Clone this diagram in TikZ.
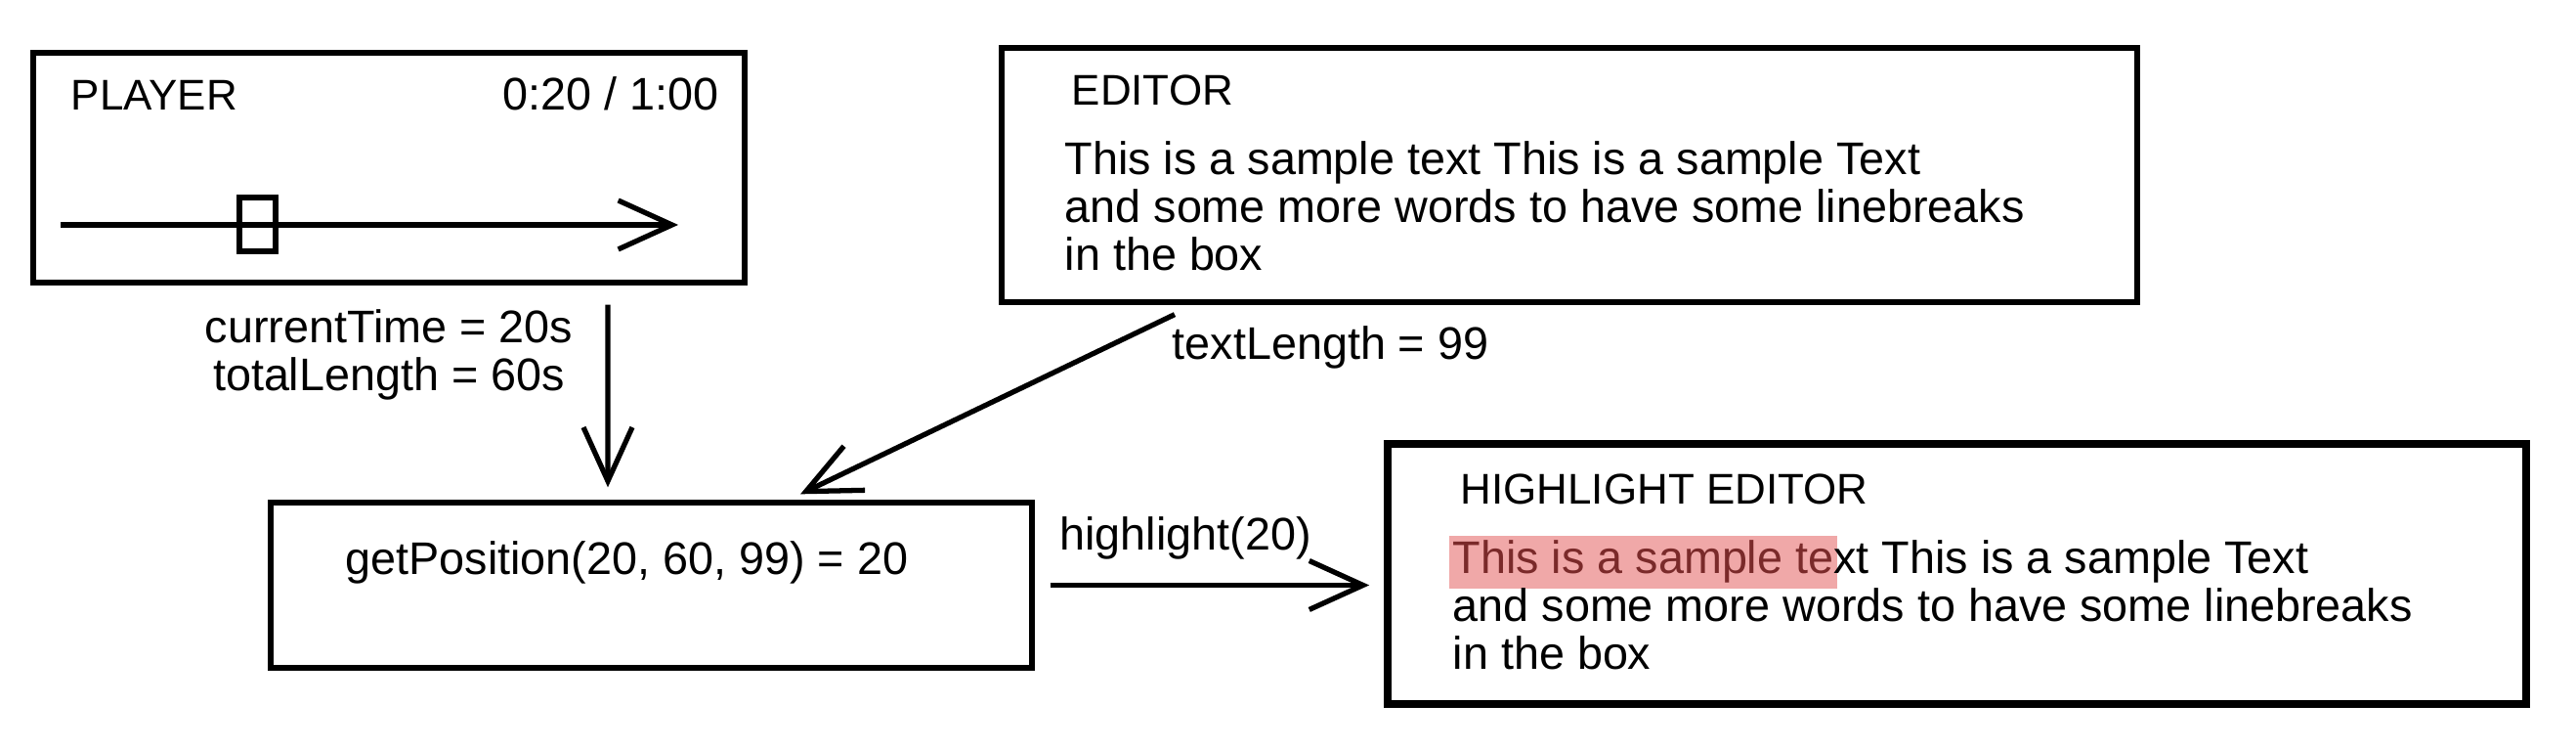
\documentclass[tikz,border=0pt]{standalone}
\usepackage{fontspec}
\setmainfont{Liberation Sans}
\usetikzlibrary{arrows.meta}
\definecolor{hlfill}{HTML}{F0A8A8}
\definecolor{hltext}{HTML}{7A2A2A}
\newcommand{\bodyfont}{\fontsize{13.3}{14}\selectfont}
\newcommand{\titlefont}{\fontsize{12.5}{14}\selectfont}
\newcommand{\hlmark}[1]{{\setlength{\fboxsep}{1pt}\kern-1pt\smash{\colorbox{hlfill}{\rule[-3.5pt]{0pt}{13.5pt}\textcolor{hltext}{#1}}}\kern-1pt}}
\begin{document}
\begin{tikzpicture}[
  box/.style={draw, line width=1.5pt, inner sep=0pt},
  link/.style={line width=1.5pt, -{Straight Barb[length=0.55cm, width=0.5cm]}},
  txt/.style={font=\bodyfont, inner sep=0pt},
  title/.style={font=\titlefont, inner sep=0pt, anchor=base west}
]
\useasboundingbox [fill=white] (0,0) rectangle (26.36,7.66);
% player
\node [box, minimum width=7.28cm, minimum height=2.35cm] (player) at (3.98,5.945) {};
\node [title] (playertitle) at (0.72,6.53) {PLAYER};
\node [txt, anchor=base east] (playertime) at (7.36,6.53) {0:20 / 1:00};
\coordinate (trackstart) at (0.62,5.36);
\coordinate (trackend) at (6.94,5.36);
\draw [link] (trackstart) -- (trackend);
\node [box, minimum width=0.37cm, minimum height=0.55cm] (thumb) at (2.635,5.365) {};
\node [txt, align=center, anchor=north] (playerdata) at (3.98,4.50) {currentTime = 20s\\totalLength = 60s};
% position
\node [box, minimum width=7.79cm, minimum height=1.69cm] (getpos) at (6.665,1.675) {};
\node [txt, anchor=base west] (getposcall) at (3.53,1.78) {getPosition(20, 60, 99) = 20};
\draw [link] ([xshift=2.24cm, yshift=-0.2cm]player.south) -- ([xshift=-0.445cm, yshift=0.13cm]getpos.north);
% editor
\node [box, minimum width=11.62cm, minimum height=2.60cm] (editor) at (16.06,5.87) {};
\node [title] (editortitle) at (10.96,6.58) {EDITOR};
\node [txt, align=left, anchor=north west] (editortext) at (10.89,6.22) {This is a sample text This is a sample Text\\and some more words to have some linebreaks\\in the box};
\draw [link] ([xshift=-4.04cm, yshift=-0.1cm]editor.south) -- ([xshift=1.525cm, yshift=0.06cm]getpos.north);
\node [txt, anchor=base west] (textlength) at (11.99,3.98) {textLength = 99};
% highlight editor
\node [box, line width=2.2pt, minimum width=11.65cm, minimum height=2.66cm] (hleditor) at (20.025,1.79) {};
\node [title] (hltitle) at (14.94,2.50) {HIGHLIGHT EDITOR};
\node [txt, align=left, anchor=north west] (hltext) at (14.86,2.14) {\hlmark{This is a sample te}xt This is a sample Text\\and some more words to have some linebreaks\\in the box};
\draw [link, shorten <=0.16cm, shorten >=0.15cm] (getpos.east) -- (getpos.east -| hleditor.west);
\node [txt, anchor=base] (hlcall) at (12.13,2.03) {highlight(20)};
\end{tikzpicture}
\end{document}
